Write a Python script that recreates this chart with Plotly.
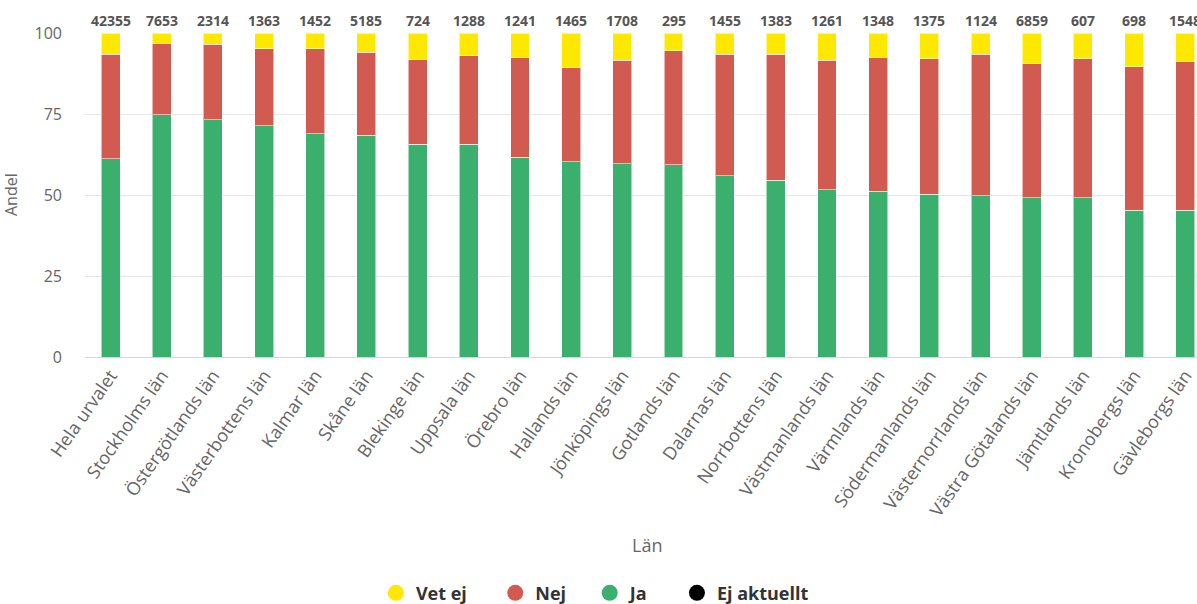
import plotly.graph_objects as go

# Andel svar per län (procent), staplade
lan = [
    "Hela urvalet", "Stockholms län", "Östergötlands län", "Västerbottens län",
    "Kalmar län", "Skåne län", "Blekinge län", "Uppsala län", "Örebro län",
    "Hallands län", "Jönköpings län", "Gotlands län", "Dalarnas län",
    "Norrbottens län", "Västmanlands län", "Värmlands län", "Södermanlands län",
    "Västernorrlands län", "Västra Götalands län", "Jämtlands län",
    "Kronobergs län", "Gävleborgs län",
]
antal = [42355, 7653, 2314, 1363, 1452, 5185, 724, 1288, 1241, 1465, 1708,
         295, 1455, 1383, 1261, 1348, 1375, 1124, 6859, 607, 698, 1548]

ja = [61.2, 74.8, 73.3, 71.4, 68.9, 68.4, 65.6, 65.6, 61.7, 60.2, 59.7,
      59.4, 55.9, 54.5, 51.6, 51.1, 50.2, 49.7, 49.1, 49.1, 45.3, 45.3]
nej = [32.3, 22.1, 23.2, 23.7, 26.2, 25.6, 26.1, 27.4, 30.8, 29.0, 31.9,
       35.2, 37.6, 39.0, 40.0, 41.4, 41.9, 43.8, 41.5, 43.0, 44.3, 45.9]
vet_ej = [6.5, 3.1, 3.5, 4.9, 4.9, 6.0, 8.3, 7.0, 7.5, 10.8, 8.4,
          5.4, 6.5, 6.5, 8.4, 7.5, 7.9, 6.5, 9.4, 7.9, 10.4, 8.8]
ej_aktuellt = [0, 0, 0, 0, 0, 0, 0, 0, 0, 0, 0,
               0, 0, 0, 0, 0, 0, 0, 0, 0, 0, 0]

serier = [
    ("Ej aktuellt", ej_aktuellt, "#000000"),
    ("Ja", ja, "#3BB06E"),
    ("Nej", nej, "#D15B50"),
    ("Vet ej", vet_ej, "#FFE800"),
]
legend_order = ["Vet ej", "Nej", "Ja", "Ej aktuellt"]
legend_pad = [5, 4, 5, 0]

FONT = "Open Sans"
AXIS_GREY = "#666666"
NBSP = "\u00a0"

fig = go.Figure()
for namn, varden, farg in serier:
    fig.add_trace(go.Bar(
        x=lan, y=varden, name=namn, showlegend=False,
        marker=dict(color=farg,
                    line=dict(color="rgba(255,255,255,0.55)",
                              width=0 if namn == "Ej aktuellt" else 1)),
    ))

# Cirkelmarkörer i förklaringen (extra luft mellan posterna)
farger = {n: f for n, _, f in serier}
for namn, pad in zip(legend_order, legend_pad):
    fig.add_trace(go.Scatter(
        x=[None], y=[None], mode="markers", name=namn + NBSP * pad,
        marker=dict(symbol="circle", size=18, color=farger[namn]),
    ))

# Antal svarande ovanför varje stapel
for namn, n in zip(lan, antal):
    fig.add_annotation(
        x=namn, y=1, xref="x", yref="paper", text=f"<b>{n}</b>",
        showarrow=False, yanchor="middle", yshift=13,
        font=dict(family=FONT, size=14, color="#555555"),
    )

# Axeltitlar
fig.add_annotation(
    x=0.505, y=0, xref="paper", yref="paper", text="Län", showarrow=False,
    yanchor="middle", yshift=-188, font=dict(family=FONT, size=18, color=AXIS_GREY),
)
fig.add_annotation(
    x=0, y=0.5, xref="paper", yref="paper", text="Andel", showarrow=False,
    textangle=-90, xanchor="center", xshift=-74,
    font=dict(family=FONT, size=16, color=AXIS_GREY),
)

fig.update_layout(
    width=1197, height=604,
    margin=dict(l=85, r=0, t=33, b=247, pad=0),
    barmode="stack", bargap=0.63,
    plot_bgcolor="white", paper_bgcolor="white",
    font=dict(family=FONT, color=AXIS_GREY),
    legend=dict(
        orientation="h", xref="container", yref="container",
        x=0.497, xanchor="center", y=0.018, yanchor="middle",
        traceorder="normal", itemsizing="trace",
        font=dict(family=FONT, size=18, color="#333333", weight="bold"),
    ),
    xaxis=dict(
        range=[-0.5, 21.23], tickangle=-55,
        tickfont=dict(family=FONT, size=18, color=AXIS_GREY),
        showline=True, linecolor="#ccd6eb", linewidth=1,
        showgrid=False, ticks="",
    ),
    yaxis=dict(
        range=[0, 100], tickvals=[0, 25, 50, 75, 100],
        tickfont=dict(family=FONT, size=16, color=AXIS_GREY),
        gridcolor="#e6e6e6", gridwidth=1, zeroline=False,
        ticklabelstandoff=22,
    ),
)

fig.write_html("out.html")
